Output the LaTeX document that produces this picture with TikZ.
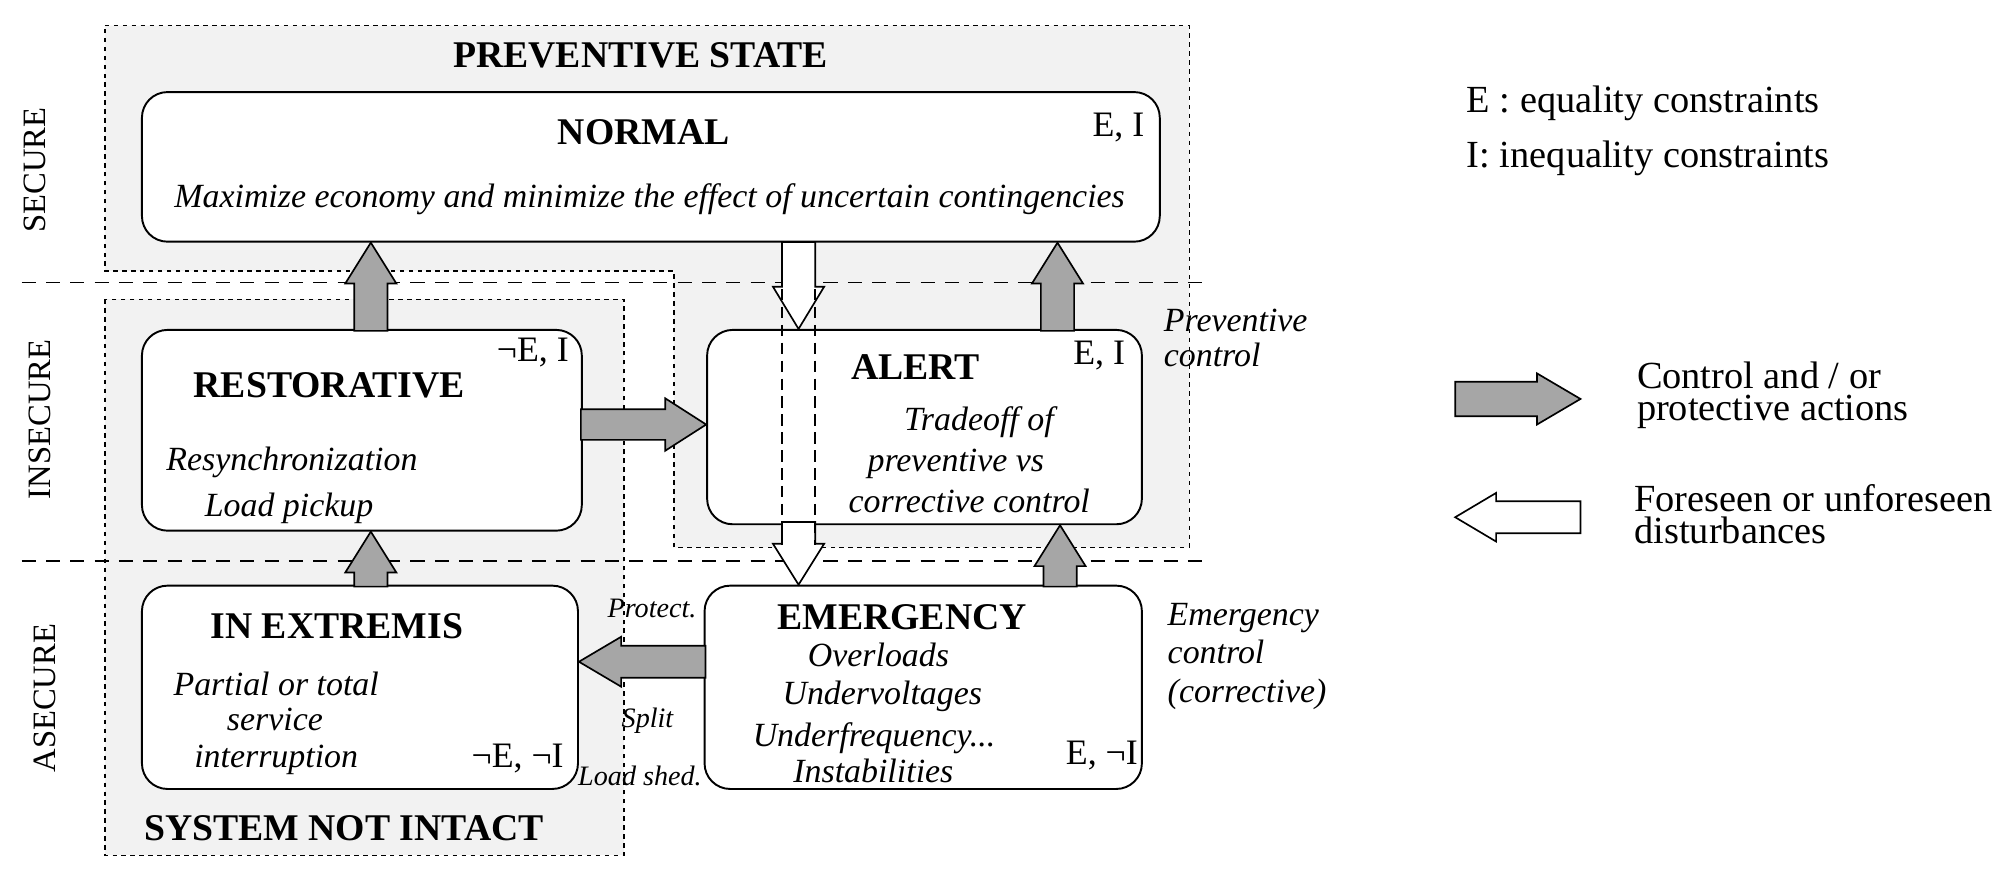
\documentclass[tikz,border=0pt]{standalone}
\usepackage{fontspec}
\setmainfont{Liberation Serif}
\usetikzlibrary{calc}
\definecolor{regfill}{HTML}{F2F2F2}
\definecolor{arrgray}{HTML}{A6A6A6}
\newcommand\fsz[1]{\fontsize{#1}{#1}\selectfont}
% style, tip, angle, length, shaft half width, head half width, head length
\newcommand\blockarrow[7]{%
  \draw[#1, shift={(#2)}, rotate=#3] (0,0) -- (-#7,#6) -- (-#7,#5) -- (-#4,#5) -- (-#4,-#5) -- (-#7,-#5) -- (-#7,-#6) -- cycle;}
\tikzset{
  region/.style={fill=regfill, draw=black, line width=1.1pt, dash pattern=on 3.5pt off 3.5pt},
  sepline/.style={draw=black, line width=1.4pt, dash pattern=on 11pt off 8pt},
  statebox/.style={draw=black, fill=white, rounded corners=20pt, line width=1.5pt, inner sep=0pt},
  garr/.style={draw=black, fill=arrgray, line width=1.3pt, line join=miter},
  warr/.style={draw=black, fill=white, line width=1.3pt, line join=miter},
  ttl/.style={inner sep=0pt, anchor=base, font=\fsz{29.5}\bfseries},
  itx/.style={inner sep=0pt, anchor=base, font=\fsz{26.5}\itshape},
  con/.style={inner sep=0pt, anchor=base east, font=\fsz{28}},
  sml/.style={inner sep=0pt, anchor=base west, font=\fsz{22}\itshape},
  side/.style={inner sep=0pt, anchor=base west, font=\fsz{26.5}\itshape},
  lev/.style={inner sep=0pt, anchor=center, rotate=90, font=\fsz{25.5}},
  leg/.style={inner sep=0pt, anchor=base west, font=\fsz{30}},
  leg2/.style={inner sep=0pt, anchor=north west, align=left, font=\fontsize{30}{25}\selectfont},
}
\begin{document}
\begin{tikzpicture}[x=1pt, y=-1pt]
\fill[white] (0,0) rectangle (1568,680);
\useasboundingbox (0,0) rectangle (1568,680);

% regions
\draw[region] (82,20) -- (930,20) -- (930,428) -- (527,428) -- (527,212) -- (82,212) -- cycle;
\draw[region] (82,234) rectangle (488,669);

% level separators
\draw[sepline] (17,221) -- (941,221);
\draw[sepline] (17,439) -- (941,439);

% state boxes
\node[statebox, minimum width=796pt, minimum height=117pt] (normal) at (509,130.5) {};
\node[statebox, minimum width=344pt, minimum height=157pt] (rest) at (283,336.5) {};
\node[statebox, minimum width=340pt, minimum height=152pt] (alert) at (723,334) {};
\node[statebox, minimum width=341pt, minimum height=159pt] (extr) at (281.5,537.5) {};
\node[statebox, minimum width=342pt, minimum height=159pt] (emerg) at (722,537.5) {};

% control / protective actions (gray)
\blockarrow{garr}{290,0 |- normal.south}{90}{69}{13}{20}{32}
\blockarrow{garr}{827,0 |- normal.south}{90}{69}{13}{20}{32}
\blockarrow{garr}{290,0 |- rest.south}{90}{43}{13}{20}{32}
\blockarrow{garr}{829,0 |- alert.south}{90}{48}{13}{20}{32}
\blockarrow{garr}{alert.west |- 0,332}{0}{98}{12}{20.5}{32}
\blockarrow{garr}{extr.east |- 0,517.5}{180}{99}{12.5}{19.5}{33}

% disturbances (white)
\blockarrow{warr}{624.5,0 |- alert.north}{-90}{68}{13}{20}{33}
\blockarrow{warr}{624.5,0 |- emerg.north}{-90}{49}{13}{20}{32}
\draw[line width=1.2pt, dash pattern=on 9pt off 5pt] (611.5,226) -- (611.5,426);
\draw[line width=1.2pt, dash pattern=on 9pt off 5pt] (637.5,226) -- (637.5,426);

% texts
\node[ttl] (tprev) at (501,53) {PREVENTIVE STATE};
\node[ttl] (tnorm) at (503.5,113) {NORMAL};
\node[con] (cnorm) at (895,107) {E, I};
\node[itx] (dnorm) at (508,162) {Maximize economy and minimize the effect of uncertain contingencies};

\node[ttl] (trest) at (257.5,311) {RESTORATIVE};
\node[con] (crest) at (445,283) {¬E, I};
\node[itx, anchor=base west] (drest1) at (130,368) {Resynchronization};
\node[itx, anchor=base west] (drest2) at (160,404) {Load pickup};

\node[ttl] (talert) at (716,297) {ALERT};
\node[con] (calert) at (880,285) {E, I};
\node[itx] (dal1) at (765.5,337) {Tradeoff of};
\node[itx] (dal2) at (747.5,369) {preventive vs};
\node[itx] (dal3) at (758,401) {corrective control};
\node[side] (pc1) at (910,259) {Preventive};
\node[side] (pc2) at (910,287) {control};

\node[ttl] (textr) at (263.5,499) {IN EXTREMIS};
\node[itx] (dex1) at (216,544) {Partial or total};
\node[itx] (dex2) at (215,571) {service};
\node[itx] (dex3) at (216,600) {interruption};
\node[con] (cextr) at (441,600) {¬E, ¬I};

\node[sml] (lprot) at (475,483) {Protect.};
\node[sml] (lsplit) at (486,569) {Split};
\node[sml] (lshed) at (452,614) {Load shed.};

\node[ttl] (temerg) at (705.5,492) {EMERGENCY};
\node[itx] (dem1) at (687,521) {Overloads};
\node[itx] (dem2) at (690,551) {Undervoltages};
\node[itx] (dem3) at (683.5,584) {Underfrequency...};
\node[itx] (dem4) at (683,612) {Instabilities};
\node[con] (cemerg) at (890,598) {E, ¬I};
\node[side] (ec1) at (913,489) {Emergency};
\node[side] (ec2) at (913,519) {control};
\node[side] (ec3) at (913,549) {(corrective)};

\node[ttl] (tsys) at (269,657) {SYSTEM NOT INTACT};

\node[lev] (lsec) at (27,133) {SECURE};
\node[lev] (lins) at (31,328) {INSECURE};
\node[lev] (lasec) at (35,546) {ASECURE};

% legend
\node[leg] (legE) at (1147,88) {E : equality constraints};
\node[leg] (legI) at (1147,131) {I: inequality constraints};
\coordinate (lgtip) at (1236,312);
\coordinate (lwtip) at (1138,404.5);
\blockarrow{garr}{lgtip}{0}{98}{13.5}{20}{34}
\blockarrow{warr}{lwtip}{180}{98}{12.5}{19}{32}
\node[leg2] (leg1) at (1280,282.5) {Control and / or\\protective actions};
\node[leg2] (leg2) at (1278,378.5) {Foreseen or unforeseen\\disturbances};
\end{tikzpicture}
\end{document}
